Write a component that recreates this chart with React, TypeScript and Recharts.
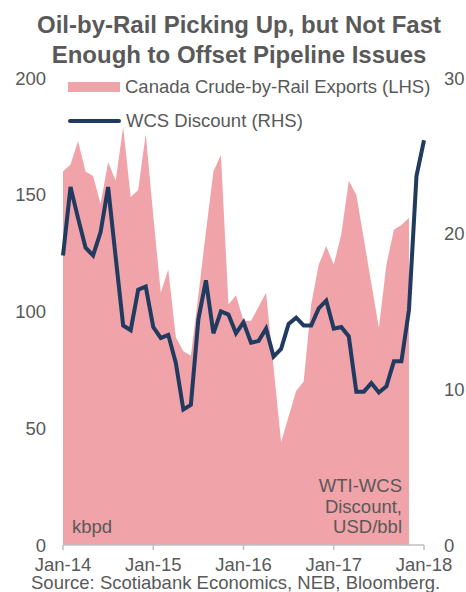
import { ComposedChart, Area, Line, XAxis, YAxis, Legend } from "recharts";

const tickLabels = ["Jan-14", "Jan-15", "Jan-16", "Jan-17", "Jan-18"];

// Canada crude-by-rail exports, kbpd (Jan-14 .. Nov-17)
const railExports = [
  160, 163, 173, 160, 158, 146, 164, 156, 179, 149, 152, 176,
  141, 108, 118, 89, 83, 81, 107, 134, 160, 167, 103, 107,
  96, 96, 102, 108, 76, 44, 55, 66, 70, 103, 120, 128,
  120, 133, 156, 150, 131, 112, 93, 120, 135, 137, 140,
];

// WTI-WCS discount, USD/bbl (Jan-14 .. Jan-18)
const wcsDiscount = [
  18.6, 23.0, 21.0, 19.1, 18.6, 20.1, 23.0, 18.5, 14.1, 13.8, 16.4, 16.6,
  14.0, 13.3, 13.5, 11.7, 8.7, 9.0, 14.5, 17.0, 13.6, 15.0, 14.8, 13.6,
  14.3, 13.0, 13.1, 13.9, 12.1, 12.6, 14.2, 14.6, 14.1, 14.1, 15.2, 15.7,
  13.9, 14.0, 13.4, 9.85, 9.85, 10.4, 9.8, 10.2, 11.8, 11.8, 15.1, 23.7,
  26.0,
];

const PINK = "#f0a3a8";
const NAVY = "#203a60";
const GRAY = "#595959";
const FONT = '"Liberation Sans", Arial, sans-serif';

const data = wcsDiscount.map((wcs, i) => ({
  idx: i,
  rail: i < railExports.length ? railExports[i] : null,
  wcs,
}));

function LegendBox() {
  const row = { display: "flex", alignItems: "center", height: 34 };
  const label = { marginLeft: 5, fontSize: 18.5, color: GRAY, fontFamily: FONT, whiteSpace: "nowrap" as const };
  return (
    <div>
      <div style={row}>
        <div style={{ width: 52, height: 10, background: PINK }} />
        <span style={label}>Canada Crude-by-Rail Exports (LHS)</span>
      </div>
      <div style={row}>
        <div style={{ width: 53, height: 4, background: NAVY, borderRadius: 2 }} />
        <span style={label}>WCS Discount (RHS)</span>
      </div>
    </div>
  );
}

export default function App() {
  const tick = { fill: GRAY, fontSize: 18.5, fontFamily: FONT };
  return (
    <div style={{ position: "absolute", left: 0, top: 0, width: 466, height: 592, background: "#fff", fontFamily: FONT }}>
      <div
        style={{
          position: "absolute",
          left: 6,
          top: 10,
          width: 466,
          textAlign: "center",
          fontWeight: "bold",
          fontSize: 24,
          lineHeight: "30px",
          color: GRAY,
        }}
      >
        Oil-by-Rail Picking Up, but Not Fast
        <br />
        Enough to Offset Pipeline Issues
      </div>

      <ComposedChart
        width={466}
        height={592}
        data={data}
        margin={{ top: 78, right: 0, bottom: 0, left: 0 }}
      >
        <XAxis
          dataKey="idx"
          type="number"
          domain={[0, 48]}
          ticks={[0, 12, 24, 36, 48]}
          tickFormatter={(v: number) => tickLabels[v / 12]}
          height={47}
          tick={tick}
          stroke="#bfbfbf"
          strokeWidth={1.5}
          tickSize={5}
          tickMargin={8}
          interval={0}
        />
        <YAxis
          yAxisId="left"
          domain={[0, 200]}
          ticks={[0, 50, 100, 150, 200]}
          width={63}
          axisLine={false}
          tickLine={false}
          tickSize={0}
          tickMargin={17}
          tick={tick}
        />
        <YAxis
          yAxisId="right"
          orientation="right"
          domain={[0, 30]}
          ticks={[0, 10, 20, 30]}
          width={42}
          axisLine={false}
          tickLine={false}
          tickSize={0}
          tickMargin={20}
          tick={tick}
        />
        <Area
          yAxisId="left"
          type="linear"
          dataKey="rail"
          fill={PINK}
          fillOpacity={1}
          stroke="none"
          isAnimationActive={false}
        />
        <Line
          yAxisId="right"
          type="linear"
          dataKey="wcs"
          stroke={NAVY}
          strokeWidth={4}
          dot={false}
          activeDot={false}
          isAnimationActive={false}
        />
        <Legend
          layout="vertical"
          align="center"
          verticalAlign="middle"
          content={() => <LegendBox />}
          wrapperStyle={{ top: 70, left: 68, width: 390 }}
        />
      </ComposedChart>

      <div style={{ position: "absolute", left: 72, top: 516, fontSize: 18.5, lineHeight: "21px", color: GRAY }}>
        kbpd
      </div>
      <div
        style={{
          position: "absolute",
          right: 64,
          top: 476,
          fontSize: 18.5,
          lineHeight: "20.7px",
          color: GRAY,
          textAlign: "right",
        }}
      >
        WTI-WCS
        <br />
        Discount,
        <br />
        USD/bbl
      </div>
      <div style={{ position: "absolute", left: 31, top: 576, fontSize: 18.5, lineHeight: "14px", color: GRAY, whiteSpace: "nowrap" }}>
        Source: Scotiabank Economics, NEB, Bloomberg.
      </div>
    </div>
  );
}
